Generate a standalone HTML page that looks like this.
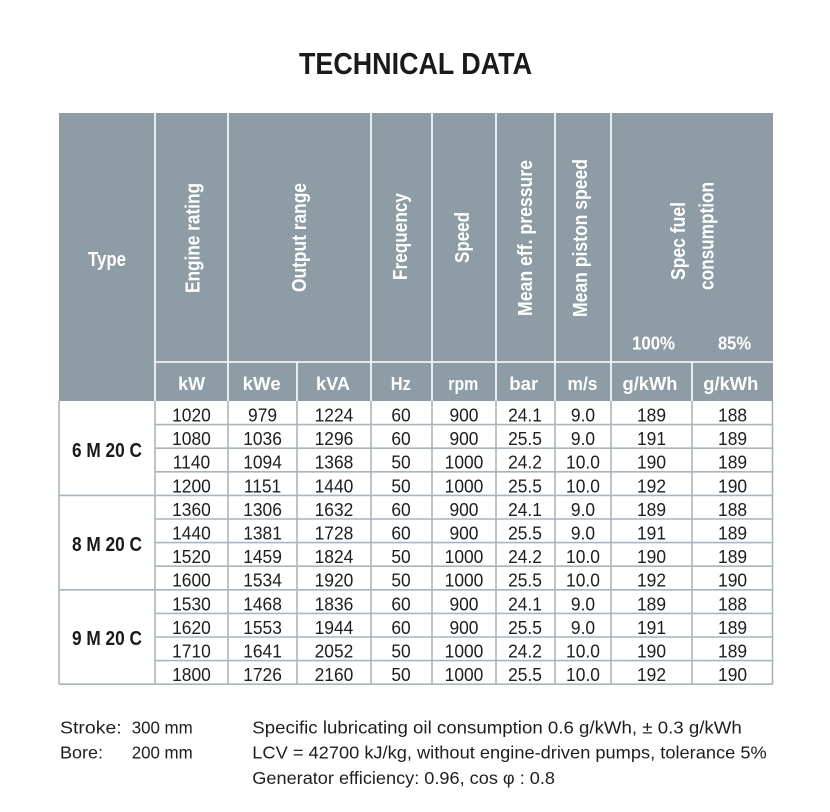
<!DOCTYPE html>
<html>
<head>
<meta charset="utf-8">
<style>
  html,body{margin:0;padding:0;background:#fff;}
  svg{display:block;}
  .h{font-family:"Liberation Sans",Arial,sans-serif;font-weight:bold;fill:#fff;font-size:20px;}
  .u{font-family:"Liberation Sans",Arial,sans-serif;font-weight:bold;fill:#fff;font-size:18px;}
  .n{font-family:"Liberation Sans",Arial,sans-serif;fill:#1e1e1e;font-size:18.5px;}
  .g{font-family:"Liberation Sans",Arial,sans-serif;font-weight:bold;fill:#1a1a1a;font-size:20px;}
  .f{font-family:"Liberation Sans",Arial,sans-serif;fill:#1e1e1e;font-size:17.5px;}
</style>
</head>
<body>
<svg width="830" height="812" viewBox="0 0 830 812" xmlns="http://www.w3.org/2000/svg">
  <rect x="0" y="0" width="830" height="812" fill="#fff"/>

  <!-- Title -->
  <text x="415.5" y="74" text-anchor="middle" textLength="233" lengthAdjust="spacingAndGlyphs"
        style="font-family:'Liberation Sans',Arial,sans-serif;font-weight:bold;font-size:30.5px;fill:#1a1a1a;">TECHNICAL DATA</text>

  <!-- Header background -->
  <rect x="59" y="113" width="714" height="288" fill="#8e9da5"/>

  <!-- Header white separators -->
  <g stroke="#ffffff" stroke-width="1.6">
    <line x1="155" y1="113" x2="155" y2="401"/>
    <line x1="228" y1="113" x2="228" y2="401"/>
    <line x1="371" y1="113" x2="371" y2="401"/>
    <line x1="432" y1="113" x2="432" y2="401"/>
    <line x1="496" y1="113" x2="496" y2="401"/>
    <line x1="555" y1="113" x2="555" y2="401"/>
    <line x1="611" y1="113" x2="611" y2="401"/>
    <line x1="297" y1="362" x2="297" y2="401"/>
    <line x1="692" y1="362" x2="692" y2="401"/>
    <line x1="155" y1="362" x2="773" y2="362"/>
  </g>

  <!-- Header texts -->
  <text class="h" x="107" y="266" text-anchor="middle" textLength="38" lengthAdjust="spacingAndGlyphs">Type</text>
  <text class="h" transform="translate(199.5,238) rotate(-90)" text-anchor="middle" textLength="110" lengthAdjust="spacingAndGlyphs">Engine rating</text>
  <text class="h" transform="translate(306,237.5) rotate(-90)" text-anchor="middle" textLength="109" lengthAdjust="spacingAndGlyphs">Output range</text>
  <text class="h" transform="translate(407,236.5) rotate(-90)" text-anchor="middle" textLength="87" lengthAdjust="spacingAndGlyphs">Frequency</text>
  <text class="h" transform="translate(469,237.5) rotate(-90)" text-anchor="middle" textLength="51" lengthAdjust="spacingAndGlyphs">Speed</text>
  <text class="h" transform="translate(532,238) rotate(-90)" text-anchor="middle" textLength="156" lengthAdjust="spacingAndGlyphs">Mean eff. pressure</text>
  <text class="h" transform="translate(587,238) rotate(-90)" text-anchor="middle" textLength="158" lengthAdjust="spacingAndGlyphs">Mean piston speed</text>
  <text class="h" transform="translate(685,241) rotate(-90)" text-anchor="middle" textLength="78" lengthAdjust="spacingAndGlyphs">Spec fuel</text>
  <text class="h" transform="translate(713.5,236) rotate(-90)" text-anchor="middle" textLength="108" lengthAdjust="spacingAndGlyphs">consumption</text>
  <text class="u" x="653.5" y="349.3" text-anchor="middle" textLength="43" lengthAdjust="spacingAndGlyphs">100%</text>
  <text class="u" x="734.5" y="349.3" text-anchor="middle" textLength="33" lengthAdjust="spacingAndGlyphs">85%</text>

  <!-- Units row -->
  <text class="u" x="191.6" y="390" text-anchor="middle" textLength="27" lengthAdjust="spacingAndGlyphs">kW</text>
  <text class="u" x="261.7" y="390" text-anchor="middle" textLength="38" lengthAdjust="spacingAndGlyphs">kWe</text>
  <text class="u" x="333" y="390" text-anchor="middle" textLength="34" lengthAdjust="spacingAndGlyphs">kVA</text>
  <text class="u" x="400.8" y="390" text-anchor="middle" textLength="20" lengthAdjust="spacingAndGlyphs">Hz</text>
  <text class="u" x="463.3" y="390" text-anchor="middle" textLength="30" lengthAdjust="spacingAndGlyphs">rpm</text>
  <text class="u" x="523.8" y="390" text-anchor="middle" textLength="29" lengthAdjust="spacingAndGlyphs">bar</text>
  <text class="u" x="582.5" y="390" text-anchor="middle" textLength="30" lengthAdjust="spacingAndGlyphs">m/s</text>
  <text class="u" x="650" y="390" text-anchor="middle" textLength="55" lengthAdjust="spacingAndGlyphs">g/kWh</text>
  <text class="u" x="730.8" y="390" text-anchor="middle" textLength="55" lengthAdjust="spacingAndGlyphs">g/kWh</text>

  <!-- Data grid -->
  <g stroke="#a9b5bc" stroke-width="1.6" fill="none">
    <line x1="59" y1="401" x2="59" y2="684.2"/>
    <line x1="155" y1="401" x2="155" y2="684.2"/>
    <line x1="228" y1="401" x2="228" y2="684.2"/>
    <line x1="297" y1="401" x2="297" y2="684.2"/>
    <line x1="371" y1="401" x2="371" y2="684.2"/>
    <line x1="432" y1="401" x2="432" y2="684.2"/>
    <line x1="496" y1="401" x2="496" y2="684.2"/>
    <line x1="555" y1="401" x2="555" y2="684.2"/>
    <line x1="611" y1="401" x2="611" y2="684.2"/>
    <line x1="692" y1="401" x2="692" y2="684.2"/>
    <line x1="772.5" y1="401" x2="772.5" y2="684.2"/>
    <line x1="155" y1="424.6" x2="773" y2="424.6"/>
    <line x1="155" y1="448.2" x2="773" y2="448.2"/>
    <line x1="155" y1="471.8" x2="773" y2="471.8"/>
    <line x1="59" y1="495.4" x2="773" y2="495.4"/>
    <line x1="155" y1="519" x2="773" y2="519"/>
    <line x1="155" y1="542.6" x2="773" y2="542.6"/>
    <line x1="155" y1="566.2" x2="773" y2="566.2"/>
    <line x1="59" y1="589.8" x2="773" y2="589.8"/>
    <line x1="155" y1="613.4" x2="773" y2="613.4"/>
    <line x1="155" y1="637" x2="773" y2="637"/>
    <line x1="155" y1="660.6" x2="773" y2="660.6"/>
    <line x1="59" y1="684.2" x2="773" y2="684.2"/>
  </g>

  <!-- Group labels -->
  <text class="g" x="107" y="457" text-anchor="middle" textLength="70" lengthAdjust="spacingAndGlyphs">6 M 20 C</text>
  <text class="g" x="107" y="551" text-anchor="middle" textLength="70" lengthAdjust="spacingAndGlyphs">8 M 20 C</text>
  <text class="g" x="107" y="645" text-anchor="middle" textLength="70" lengthAdjust="spacingAndGlyphs">9 M 20 C</text>

  <!-- Data numbers (scaled group; x = center/0.94) -->
  <g transform="scale(0.94,1)" class="n" text-anchor="middle">
    <text class="n" y="421.5"><tspan x="203.7">1020</tspan><tspan x="279.3">979</tspan><tspan x="355.3">1224</tspan><tspan x="426.6">60</tspan><tspan x="493.6">900</tspan><tspan x="558.5">24.1</tspan><tspan x="620.2">9.0</tspan><tspan x="693.1">189</tspan><tspan x="779.3">188</tspan></text>
    <text class="n" y="445.1"><tspan x="203.7">1080</tspan><tspan x="279.3">1036</tspan><tspan x="355.3">1296</tspan><tspan x="426.6">60</tspan><tspan x="493.6">900</tspan><tspan x="558.5">25.5</tspan><tspan x="620.2">9.0</tspan><tspan x="693.1">191</tspan><tspan x="779.3">189</tspan></text>
    <text class="n" y="468.7"><tspan x="203.7">1140</tspan><tspan x="279.3">1094</tspan><tspan x="355.3">1368</tspan><tspan x="426.6">50</tspan><tspan x="493.6">1000</tspan><tspan x="558.5">24.2</tspan><tspan x="620.2">10.0</tspan><tspan x="693.1">190</tspan><tspan x="779.3">189</tspan></text>
    <text class="n" y="492.3"><tspan x="203.7">1200</tspan><tspan x="279.3">1151</tspan><tspan x="355.3">1440</tspan><tspan x="426.6">50</tspan><tspan x="493.6">1000</tspan><tspan x="558.5">25.5</tspan><tspan x="620.2">10.0</tspan><tspan x="693.1">192</tspan><tspan x="779.3">190</tspan></text>

    <text class="n" y="515.9"><tspan x="203.7">1360</tspan><tspan x="279.3">1306</tspan><tspan x="355.3">1632</tspan><tspan x="426.6">60</tspan><tspan x="493.6">900</tspan><tspan x="558.5">24.1</tspan><tspan x="620.2">9.0</tspan><tspan x="693.1">189</tspan><tspan x="779.3">188</tspan></text>
    <text class="n" y="539.5"><tspan x="203.7">1440</tspan><tspan x="279.3">1381</tspan><tspan x="355.3">1728</tspan><tspan x="426.6">60</tspan><tspan x="493.6">900</tspan><tspan x="558.5">25.5</tspan><tspan x="620.2">9.0</tspan><tspan x="693.1">191</tspan><tspan x="779.3">189</tspan></text>
    <text class="n" y="563.1"><tspan x="203.7">1520</tspan><tspan x="279.3">1459</tspan><tspan x="355.3">1824</tspan><tspan x="426.6">50</tspan><tspan x="493.6">1000</tspan><tspan x="558.5">24.2</tspan><tspan x="620.2">10.0</tspan><tspan x="693.1">190</tspan><tspan x="779.3">189</tspan></text>
    <text class="n" y="586.7"><tspan x="203.7">1600</tspan><tspan x="279.3">1534</tspan><tspan x="355.3">1920</tspan><tspan x="426.6">50</tspan><tspan x="493.6">1000</tspan><tspan x="558.5">25.5</tspan><tspan x="620.2">10.0</tspan><tspan x="693.1">192</tspan><tspan x="779.3">190</tspan></text>

    <text class="n" y="610.3"><tspan x="203.7">1530</tspan><tspan x="279.3">1468</tspan><tspan x="355.3">1836</tspan><tspan x="426.6">60</tspan><tspan x="493.6">900</tspan><tspan x="558.5">24.1</tspan><tspan x="620.2">9.0</tspan><tspan x="693.1">189</tspan><tspan x="779.3">188</tspan></text>
    <text class="n" y="633.9"><tspan x="203.7">1620</tspan><tspan x="279.3">1553</tspan><tspan x="355.3">1944</tspan><tspan x="426.6">60</tspan><tspan x="493.6">900</tspan><tspan x="558.5">25.5</tspan><tspan x="620.2">9.0</tspan><tspan x="693.1">191</tspan><tspan x="779.3">189</tspan></text>
    <text class="n" y="657.5"><tspan x="203.7">1710</tspan><tspan x="279.3">1641</tspan><tspan x="355.3">2052</tspan><tspan x="426.6">50</tspan><tspan x="493.6">1000</tspan><tspan x="558.5">24.2</tspan><tspan x="620.2">10.0</tspan><tspan x="693.1">190</tspan><tspan x="779.3">189</tspan></text>
    <text class="n" y="681.1"><tspan x="203.7">1800</tspan><tspan x="279.3">1726</tspan><tspan x="355.3">2160</tspan><tspan x="426.6">50</tspan><tspan x="493.6">1000</tspan><tspan x="558.5">25.5</tspan><tspan x="620.2">10.0</tspan><tspan x="693.1">192</tspan><tspan x="779.3">190</tspan></text>
  </g>

  <!-- Footer -->
  <text class="f" x="60" y="733.3" textLength="61.7" lengthAdjust="spacingAndGlyphs">Stroke:</text>
  <text class="f" x="131.7" y="733.3" textLength="61" lengthAdjust="spacingAndGlyphs">300 mm</text>
  <text class="f" x="60" y="758.5" textLength="43" lengthAdjust="spacingAndGlyphs">Bore:</text>
  <text class="f" x="131.7" y="758.5" textLength="61" lengthAdjust="spacingAndGlyphs">200 mm</text>
  <text class="f" x="252.3" y="733.3" textLength="489.4" lengthAdjust="spacingAndGlyphs">Specific lubricating oil consumption 0.6 g/kWh, ± 0.3 g/kWh</text>
  <text class="f" x="252.3" y="758.5" textLength="514.4" lengthAdjust="spacingAndGlyphs">LCV = 42700 kJ/kg, without engine-driven pumps, tolerance 5%</text>
  <text class="f" x="252.3" y="784" textLength="302.7" lengthAdjust="spacingAndGlyphs">Generator efficiency: 0.96, cos φ : 0.8</text>
</svg>
</body>
</html>
